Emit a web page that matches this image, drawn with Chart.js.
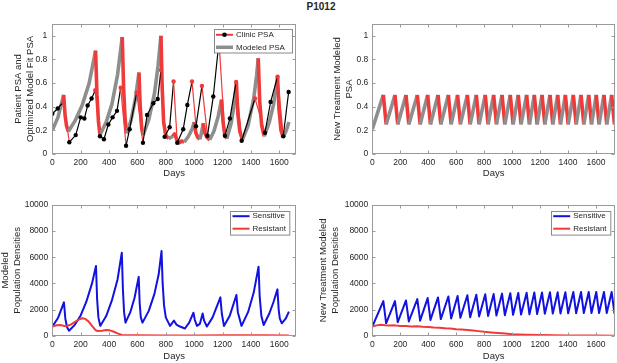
<!DOCTYPE html>
<html>
<head>
<meta charset="utf-8">
<script src="https://cdn.jsdelivr.net/npm/chart.js@4.4.1/dist/chart.umd.min.js"></script>
<style>
  html, body { margin: 0; padding: 0; background: #fff; overflow: hidden; }
  body { width: 617px; height: 363px; position: relative; }
  canvas { position: absolute; }
  #title { position: absolute; left: 281px; width: 80px; top: 1px; line-height: 12px; text-align: center;
           font: bold 10px 'Liberation Sans', Arial, sans-serif; color: #262626; }
</style>
</head>
<body>
<div id="title">P1012</div>
<canvas id="psaFit" width="305" height="182" style="left:0;top:0"></canvas>
<canvas id="psaNew" width="312" height="182" style="left:305px;top:0"></canvas>
<canvas id="popFit" width="305" height="181" style="left:0;top:182px"></canvas>
<canvas id="popNew" width="312" height="181" style="left:305px;top:182px"></canvas>
<script>
// ---- patient P1012: clinic PSA (normalised) ----
const clinicDays = [0, 38, 78, 120, 165, 200, 226, 249, 277, 303, 336, 364, 395, 425, 456, 482, 520, 545, 595,
    639, 668, 712, 743, 766, 792, 827, 855, 881, 923, 952, 985, 1013, 1055, 1094, 1135, 1175, 1217, 1252,
    1296, 1335, 1429, 1499, 1539, 1588, 1628, 1666];
const clinicPsa = [0.34, 0.385, 0.44, 0.10, 0.16, 0.31, 0.30, 0.41, 0.47, 0.54, 0.15, 0.125, 0.25, 0.31, 0.365, 0.56, 0.07, 0.21, 0.52,
    0.095, 0.33, 0.43, 0.465, 0.71, 0.145, 0.226, 0.613, 0.095, 0.21, 0.415, 0.613, 0.235, 0.576, 0.155, 0.487, 0.95, 0.155, 0.30,
    0.61, 0.112, 0.47, 0.18, 0.44, 0.655, 0.15, 0.525];
// clinic intervals shown in red (treatment on)
const clinicOn = [[78, 120], [303, 336], [482, 520], [595, 639], [766, 792], [855, 881], [985, 1013], [1055, 1094],
    [1175, 1217], [1296, 1335], [1429, 1499], [1588, 1628]];

// ---- optimised model fit PSA ----
const modelDays = [0, 40, 80, 90, 100, 113, 160, 210, 260, 305, 315, 325, 336, 380, 420, 460, 493, 503, 513, 524,
    555, 585, 611, 620, 630, 640, 680, 720, 745, 766, 775, 785, 800, 820, 850, 862, 878, 895, 912, 930,
    960, 985, 1001, 1012, 1025, 1040, 1052, 1064, 1075, 1090, 1110, 1140, 1170, 1193, 1203, 1215, 1230,
    1260, 1280, 1298, 1308, 1322, 1340, 1380, 1420, 1440, 1452, 1462, 1476, 1494, 1530, 1560, 1588,
    1598, 1612, 1628, 1650, 1668];
const modelPsa = [0.20, 0.31, 0.50, 0.33, 0.24, 0.19, 0.28, 0.41, 0.60, 0.875, 0.50, 0.28, 0.16, 0.27, 0.42, 0.67, 0.99, 0.55, 0.30, 0.175,
    0.285, 0.46, 0.69, 0.40, 0.22, 0.16, 0.29, 0.51, 0.74, 1.0, 0.55, 0.27, 0.16, 0.13, 0.15, 0.17, 0.12, 0.095, 0.11, 0.10,
    0.15, 0.21, 0.27, 0.18, 0.14, 0.125, 0.18, 0.26, 0.18, 0.14, 0.12, 0.195, 0.32, 0.46, 0.28, 0.17, 0.13,
    0.255, 0.40, 0.60, 0.34, 0.19, 0.12, 0.24, 0.47, 0.66, 0.81, 0.45, 0.24, 0.15, 0.27, 0.42, 0.65,
    0.38, 0.20, 0.14, 0.20, 0.27];
const modelOn = [[80, 113], [305, 336], [493, 524], [611, 640], [766, 820], [850, 930], [1001, 1040], [1064, 1110],
    [1193, 1230], [1298, 1340], [1452, 1494], [1588, 1628]];

// ---- new treatment schedule (model) ----
const newDays = [0, 79, 99, 162, 182, 241, 261, 322, 342, 396, 416, 470, 490, 544, 564, 610, 630, 680, 700, 744, 764,
    808, 828, 868, 888, 928, 948, 987, 1007, 1044, 1064, 1104, 1124, 1159, 1179, 1214, 1234, 1271, 1291,
    1326, 1346, 1381, 1401, 1438, 1458, 1493, 1513, 1548, 1568, 1602, 1622, 1657, 1677, 1712, 1732, 1736];
const newPsa = [0.21, 0.5, 0.25, 0.5, 0.25, 0.5, 0.25, 0.5, 0.25, 0.5, 0.25, 0.5, 0.25, 0.5, 0.25, 0.5, 0.25, 0.5, 0.25, 0.5, 0.25,
    0.5, 0.25, 0.5, 0.25, 0.5, 0.25, 0.5, 0.25, 0.5, 0.25, 0.5, 0.25, 0.5, 0.25, 0.5, 0.25, 0.5, 0.25,
    0.5, 0.25, 0.5, 0.25, 0.5, 0.25, 0.5, 0.25, 0.5, 0.25, 0.5, 0.25, 0.5, 0.25, 0.5, 0.25, 0.27];
const newSensitive = [700, 2650, 950, 2650, 1030, 2700, 1090, 2800, 1150, 2880, 1210, 2930, 1270, 3000, 1320, 3040, 1370, 3090, 1420, 3140, 1470,
    3170, 1510, 3190, 1540, 3220, 1570, 3250, 1600, 3270, 1620, 3280, 1640, 3300, 1660, 3300, 1680, 3320, 1690,
    3320, 1700, 3330, 1710, 3340, 1720, 3350, 1730, 3350, 1730, 3350, 1730, 3350, 1730, 3350, 1730, 1790];
const newResDays = [0, 30, 60, 90, 120, 160, 200, 240, 280, 320, 360, 400, 440, 480, 520, 560, 600, 640, 680, 720,
    760, 800, 850, 900, 950, 1000, 1100, 1200, 1300, 1400, 1500, 1600, 1736];
const newResistant = [700, 790, 830, 800, 780, 790, 740, 750, 710, 720, 680, 670, 630, 610, 570, 545, 500, 470, 430, 390,
    350, 300, 250, 200, 160, 120, 75, 45, 28, 18, 12, 8, 5];

// ---- fitted population densities ----
const popDays = [0, 40, 82, 92, 104, 118, 160, 200, 240, 280, 308, 316, 325, 338, 380, 420, 460, 490, 498, 506, 516,
    550, 580, 609, 616, 624, 636, 680, 720, 750, 770, 778, 788, 800, 830, 858, 875, 900, 935, 965, 995,
    1005, 1020, 1040, 1060, 1070, 1090, 1130, 1185, 1195, 1210, 1250, 1298, 1308, 1334, 1380, 1420, 1454,
    1462, 1474, 1490, 1530, 1560, 1587, 1596, 1604, 1618, 1645, 1668];
const popSensitive = [690, 1350, 2550, 1300, 650, 380, 850, 1550, 2600, 4000, 5330, 2800, 1400, 750, 1500, 2700, 4300, 6350, 3500, 1800, 1000,
    1800, 2900, 4500, 2500, 1400, 1000, 1900, 3200, 4700, 6480, 4000, 2300, 1400, 750, 1150, 850, 700, 550, 1000, 1760,
    1200, 750, 900, 1700, 1150, 700, 1400, 2930, 1700, 750, 1500, 3110, 1800, 750, 1800, 3300, 5280,
    3000, 1500, 815, 1700, 2600, 3545, 2000, 1300, 950, 1300, 1840];
const popResDays = [0, 30, 55, 80, 100, 130, 160, 190, 210, 230, 255, 280, 305, 320, 350, 380, 405, 430, 460, 490,
    520, 600, 800, 1000, 1200, 1400, 1500, 1668];
const popResistant = [700, 800, 820, 760, 720, 850, 1050, 1260, 1330, 1300, 1100, 750, 420, 360, 380, 430, 410, 320, 180, 60,
    40, 25, 15, 15, 25, 40, 30, 15];

const xTicks = [0, 200, 400, 600, 800, 1000, 1200, 1400, 1600];

const FONT = "'Liberation Sans', Arial, Helvetica, sans-serif";
const INK = '#262626';
const RED = '#f03a3a';
const GRAY = '#8e8e8e';
const BLUE = '#1212e0';
const BLACK = '#000000';

const pts = (xs, ys) => xs.map((x, i) => ({ x: x, y: ys[i] }));
const inWin = (wins, a, b) => wins.some(w => a >= w[0] && b <= w[1]);

// box with inward ticks + a MATLAB style legend
const boxPlugin = {
    id: 'box',
    afterDatasetsDraw(chart, args, opts) {
        const { ctx, chartArea: a, scales: { x, y } } = chart;
        ctx.save();
        ctx.strokeStyle = '#9a9a9a';
        ctx.lineWidth = 1;
        const L = Math.round(a.left) + 0.5, R = Math.round(a.right) - 0.5;
        const T = Math.round(a.top) + 0.5, B = Math.round(a.bottom) - 0.5;
        ctx.strokeRect(L, T, R - L, B - T);
        ctx.beginPath();
        x.ticks.forEach(t => {
            const px = Math.round(x.getPixelForValue(t.value)) + 0.5;
            ctx.moveTo(px, B); ctx.lineTo(px, B - 3);
            ctx.moveTo(px, T); ctx.lineTo(px, T + 3);
        });
        y.ticks.forEach(t => {
            const py = Math.round(y.getPixelForValue(t.value)) + 0.5;
            ctx.moveTo(L, py); ctx.lineTo(L + 3, py);
            ctx.moveTo(R, py); ctx.lineTo(R - 3, py);
        });
        ctx.stroke();

        const lg = opts.legend;
        if (lg) {
            const x0 = a.right - lg.inset[0] - lg.width, y0 = a.top + lg.inset[1];
            ctx.fillStyle = '#fff';
            ctx.fillRect(x0, y0, lg.width, lg.height);
            ctx.strokeStyle = '#8a8a8a';
            ctx.strokeRect(Math.round(x0) + 0.5, Math.round(y0) + 0.5, lg.width, lg.height);
            ctx.font = '8px ' + FONT;
            ctx.textBaseline = 'middle';
            lg.items.forEach((it, i) => {
                const yy = y0 + 5.5 + i * 12.5;
                ctx.strokeStyle = it.color;
                ctx.lineWidth = it.width;
                ctx.beginPath();
                ctx.moveTo(x0 + 2.5, yy); ctx.lineTo(x0 + 19.5, yy);
                ctx.stroke();
                if (it.dot) {
                    ctx.fillStyle = it.dot;
                    ctx.beginPath(); ctx.arc(x0 + 11, yy, 2.3, 0, Math.PI * 2); ctx.fill();
                }
                ctx.fillStyle = INK;
                ctx.fillText(it.label, x0 + 22.5, yy);
            });
        }
        ctx.restore();
    }
};

function panel(id, datasets, c) {
    new Chart(document.getElementById(id), {
        type: 'line',
        data: { datasets: datasets },
        plugins: [boxPlugin],
        options: {
            responsive: false,
            animation: false,
            events: [],
            layout: { padding: { top: c.top, right: c.right, left: 0, bottom: 0 } },
            elements: { point: { radius: 0 }, line: { tension: 0, borderCapStyle: 'butt', borderJoinStyle: 'round' } },
            plugins: {
                legend: { display: false },
                tooltip: { enabled: false },
                box: { legend: c.legend }
            },
            scales: {
                x: {
                    type: 'linear', min: 0, max: c.xMax,
                    afterFit: s => { s.height = c.xHeight; },
                    grid: { display: false, drawTicks: false },
                    border: { display: false },
                    afterBuildTicks: s => { s.ticks = xTicks.map(v => ({ value: v })); },
                    ticks: { autoSkip: false, maxRotation: 0, color: INK, padding: 4,
                             font: { family: FONT, size: 8.5 }, callback: v => String(v) },
                    title: { display: true, text: 'Days', color: INK,
                             font: { family: FONT, size: 9.5, lineHeight: 1.2 },
                             padding: { top: 0, bottom: c.daysPad } }
                },
                y: {
                    type: 'linear', min: 0, max: c.yMax,
                    afterFit: s => { s.width = c.yWidth; },
                    grid: { display: false, drawTicks: false },
                    border: { display: false },
                    afterBuildTicks: s => { s.ticks = c.yTicks.map(v => ({ value: v })); },
                    ticks: { color: INK, padding: c.yPad, font: { family: FONT, size: 8.5 },
                             callback: v => String(v) },
                    title: { display: true, text: c.yTitle, color: INK,
                             font: { family: FONT, size: 9.5, lineHeight: '12.4px' },
                             padding: { top: c.yTitlePad, bottom: 0 } }
                }
            }
        }
    });
}

const psaTicks = [0, 0.2, 0.4, 0.6, 0.8, 1];
const popTicks = [0, 2000, 4000, 6000, 8000, 10000];

panel('psaFit', [
    {
        data: pts(clinicDays, clinicPsa), borderWidth: 1.2, order: 0,
        pointRadius: 2.2, pointBorderWidth: 0,
        pointBackgroundColor: c => clinicOn.some(w => c.raw && w[0] === c.raw.x) ? RED : BLACK,
        segment: { borderColor: c => inWin(clinicOn, c.p0.parsed.x, c.p1.parsed.x) ? RED : BLACK }
    },
    {
        data: pts(modelDays, modelPsa), borderWidth: 3.6, order: 1,
        segment: { borderColor: c => inWin(modelOn, c.p0.parsed.x, c.p1.parsed.x) ? RED : GRAY }
    }
], {
    top: 24, right: 9, xMax: 1718, xHeight: 28, daysPad: 2.8, yMax: 1.1, yTicks: psaTicks,
    yWidth: 52.3, yPad: 5, yTitle: ['Patient PSA and', 'Optimized Model Fit PSA'], yTitlePad: 12.1,
    legend: { width: 78, height: 23.5, inset: [4.5, 5.3], items: [
        { label: 'Clinic PSA', color: RED, width: 2, dot: BLACK },
        { label: 'Modeled PSA', color: GRAY, width: 3.5 }
    ] }
});

panel('psaNew', [
    {
        data: pts(newDays, newPsa), borderWidth: 3.6,
        segment: { borderColor: c => c.p1.parsed.y < c.p0.parsed.y ? RED : GRAY }
    }
], {
    top: 24, right: 2, xMax: 1736, xHeight: 28, daysPad: 2.8, yMax: 1.1, yTicks: psaTicks,
    yWidth: 67.3, yPad: 4, yTitle: ['New Treatment Modeled', 'PSA'], yTitlePad: 26.1
});

panel('popFit', [
    { data: pts(popDays, popSensitive), borderColor: BLUE, borderWidth: 2, order: 1 },
    { data: pts(popResDays, popResistant), borderColor: RED, borderWidth: 2, order: 0 }
], {
    top: 23, right: 9, xMax: 1718, xHeight: 27.3, daysPad: 0.6, yMax: 10000, yTicks: popTicks,
    yWidth: 52.3, yPad: 4, yTitle: ['Modeled', 'Population Densities'], yTitlePad: -1.2,
    legend: { width: 59.3, height: 23.6, inset: [6.7, 5.7], items: [
        { label: 'Sensitive', color: BLUE, width: 2 },
        { label: 'Resistant', color: RED, width: 2 }
    ] }
});

panel('popNew', [
    { data: pts(newDays, newSensitive), borderColor: BLUE, borderWidth: 2, order: 1 },
    { data: pts(newResDays, newResistant), borderColor: RED, borderWidth: 2, order: 0 }
], {
    top: 23, right: 2, xMax: 1736, xHeight: 27.3, daysPad: 0.6, yMax: 10000, yTicks: popTicks,
    yWidth: 67.3, yPad: 4, yTitle: ['New Treatment Modeled', 'Population Densities'], yTitlePad: 12.1,
    legend: { width: 59.3, height: 23.6, inset: [5, 5.7], items: [
        { label: 'Sensitive', color: BLUE, width: 2 },
        { label: 'Resistant', color: RED, width: 2 }
    ] }
});
</script>
</body>
</html>
